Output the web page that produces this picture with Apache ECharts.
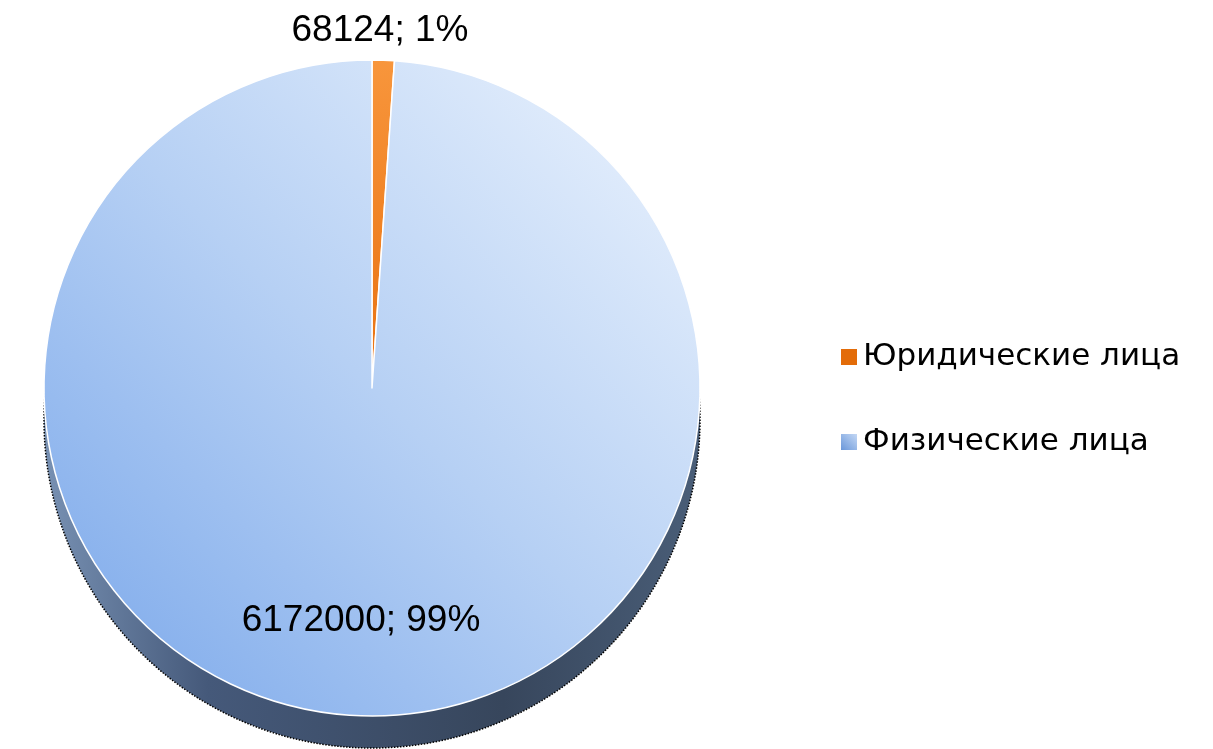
<!DOCTYPE html>
<html><head><meta charset="utf-8">
<script src="https://cdn.jsdelivr.net/npm/echarts@6/dist/echarts.min.js"></script>
<style>html,body{margin:0;padding:0;background:#fff}#c{width:1213px;height:749px}</style>
</head><body><div id="c"></div>
<script>
const categories = ['Юридические лица', 'Физические лица'];
const values = [68124, 6172000];

const G = echarts.graphic.LinearGradient;
const sliceColors = [
  new G(0, 0, 1, 1, [{offset: 0, color: '#f8963c'}, {offset: 1, color: '#e8700f'}]),
  new G(1, 0, 0, 1, [{offset: 0, color: '#eef5fe'}, {offset: 0.5, color: '#b6d0f4'}, {offset: 1, color: '#78a6ea'}])
];
const legendColors = ['#e36c09', new G(1, 0, 0, 1, [{offset: 0, color: '#cfe0f8'}, {offset: 1, color: '#5f8fd6'}])];
const shadowColor = new G(0, 0, 1, 0, [{offset: 0, color: '#7891b3'}, {offset: 0.25, color: '#45597a'}, {offset: 0.7, color: '#37465c'}, {offset: 1, color: '#4a5e78'}]);

const chart = echarts.init(document.getElementById('c'), null, {renderer: 'canvas'});
chart.setOption({
  backgroundColor: '#ffffff',
  animation: false,
  legend: {
    orient: 'vertical',
    left: 834,
    top: 334,
    itemWidth: 18,
    itemHeight: 18,
    itemGap: 49,
    icon: 'rect',
    selectedMode: false,
    data: categories.map((n, i) => ({name: n, itemStyle: {color: legendColors[i]}})),
    textStyle: {fontFamily: 'DejaVu Sans', fontSize: 31, color: '#000', lineHeight: 36, padding: [0, 0, 0, 0]}
  },
  series: [
    {
      type: 'pie',
      name: 'shadow',
      silent: true,
      center: [372, 420],
      radius: 328,
      startAngle: 90,
      label: {show: false},
      labelLine: {show: false},
      itemStyle: {color: shadowColor, borderColor: '#000', borderWidth: 1.5, borderType: 'dotted'},
      data: values.map(v => ({value: v})),
      z: 1
    },
    {
      type: 'pie',
      name: 'main',
      center: [372, 388],
      radius: 328,
      startAngle: 90,
      clockwise: true,
      percentPrecision: 0,
      data: categories.map((n, i) => ({name: n, value: values[i], itemStyle: {color: sliceColors[i]}})),
      itemStyle: {borderColor: '#ffffff', borderWidth: 1.5},
      label: {
        show: true,
        position: 'inside',
        formatter: '{c}; {d}%',
        fontFamily: 'Liberation Sans',
        fontSize: 37,
        color: '#000'
      },
      labelLine: {show: false},
      labelLayout: function (p) {
        if (p.dataIndex === 0) return {x: 380, y: 31, align: 'center', verticalAlign: 'middle'};
        return {x: 361, y: 621, align: 'center', verticalAlign: 'middle'};
      },
      z: 2
    }
  ]
});
</script></body></html>
